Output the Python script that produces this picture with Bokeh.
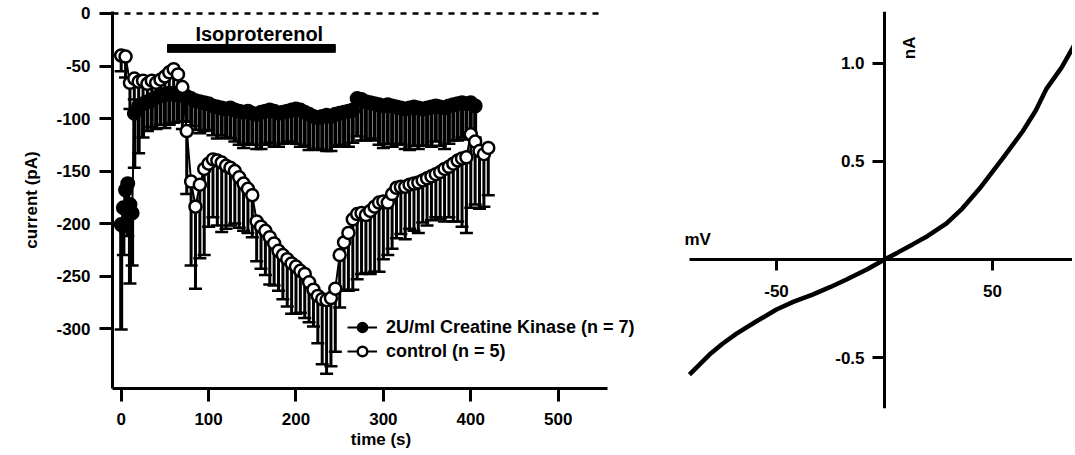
import math
from bokeh.plotting import figure
from bokeh.models import Range1d, FixedTicker, Label, Legend, LegendItem
from bokeh.layouts import row
from bokeh.embed import file_html
from bokeh.resources import INLINE

FONT = "Liberation Sans"

# ---------------- Left panel data: current (pA) vs time (s) ----------------
ctrl_time = [0, 5, 10, 15, 20, 25, 30, 35, 40, 45,
             50, 55, 60, 65, 70, 75, 80, 85, 90, 95,
             100, 105, 110, 115, 120, 125, 130, 135, 140, 145,
             150, 155, 160, 165, 170, 175, 180, 185, 190, 195,
             200, 205, 210, 215, 220, 225, 230, 235, 240, 245,
             250, 255, 260, 265, 270, 275, 280, 285, 290, 295,
             300, 305, 310, 315, 320, 325, 330, 335, 340, 345,
             350, 355, 360, 365, 370, 375, 380, 385, 390, 395,
             400, 405, 410, 415, 420]
ctrl_current = [-40, -41, -66, -62, -65, -64, -67, -64, -66, -63,
                -60, -56, -53, -58, -70, -112, -160, -184, -163, -148,
                -143, -139, -140, -142, -145, -147, -150, -156, -162, -167,
                -173, -198, -203, -207, -213, -219, -226, -230, -234, -238,
                -241, -245, -248, -256, -263, -269, -272, -273, -271, -262,
                -230, -218, -209, -196, -191, -190, -192, -188, -184, -180,
                -179, -180, -172, -166, -165, -165, -163, -162, -161, -159,
                -157, -155, -153, -151, -148, -146, -143, -140, -138, -137,
                -115, -122, -131, -134, -128]
ctrl_err = [15, 20, 25, 20, 25, 20, 22, 20, 18, 20,
            18, 20, 22, 25, 40, 60, 80, 78, 70, 82,
            60, 55, 62, 66, 60, 55, 50, 48, 45, 42,
            40, 38, 40, 42, 45, 40, 38, 42, 45, 48,
            45, 40, 42, 38, 35, 45, 62, 70, 65, 60,
            50, 45, 55, 67, 62, 58, 55, 60, 62, 66,
            55, 50, 52, 48, 45, 50, 42, 45, 48, 40,
            45, 42, 41, 45, 50, 48, 55, 58, 65, 72,
            70, 60, 55, 50, 45]

ck_time = [0, 2.5, 5, 7.5, 10, 12.5,
           15, 20, 25, 30, 35, 40, 45, 50, 55, 60,
           65, 70, 75, 80, 85, 90, 95, 100, 105, 110,
           115, 120, 125, 130, 135, 140, 145, 150, 155, 160,
           165, 170, 175, 180, 185, 190, 195, 200, 205, 210,
           215, 220, 225, 230, 235, 240, 245, 250, 255, 260,
           265, 270, 275, 280, 285, 290, 295, 300, 305, 310,
           315, 320, 325, 330, 335, 340, 345, 350, 355, 360,
           365, 370, 375, 380, 385, 390, 395, 400, 405]
ck_current = [-201, -185, -168, -162, -182, -190,
              -95, -88, -86, -84, -82, -80, -78, -77, -76, -76,
              -77, -78, -79, -81, -83, -84, -85, -86, -88, -89,
              -90, -91, -90, -92, -93, -94, -93, -95, -96, -94,
              -93, -92, -93, -95, -94, -93, -92, -91, -92, -94,
              -96, -98, -99, -98, -97, -98, -96, -95, -94, -93,
              -92, -81, -82, -84, -85, -86, -87, -88, -87, -88,
              -89, -90, -91, -90, -89, -90, -91, -90, -89, -88,
              -89, -90, -88, -87, -86, -85, -86, -85, -88]
ck_err = [100, 45, 40, 50, 75, 50,
          52, 45, 32, 28, 26, 30, 28, 32, 30, 28,
          26, 25, 24, 26, 28, 30, 27, 25, 28, 30,
          26, 27, 29, 30, 32, 34, 31, 30, 33, 35,
          32, 31, 34, 32, 30, 29, 31, 33, 35, 32,
          34, 31, 30, 32, 34, 33, 31, 30, 32, 34,
          31, 36, 39, 37, 34, 35, 38, 40, 37, 39,
          36, 34, 38, 40, 37, 39, 35, 36, 38, 34,
          37, 39, 36, 34, 35, 33, 34, 32, 30]

iso_start, iso_end = 53, 245
time_axis_start, time_axis_end = -9.95, 556.4
zero_line_end = 553
left_xticks = [0, 100, 200, 300, 400, 500]
left_yticks = [0, -50, -100, -150, -200, -250, -300]

# ---------------- Right panel data: I-V curve ----------------
iv_mv = [-90.3, -86, -81, -75, -68.5, -60, -50, -42, -33.3, -25, -17.6, -8, 0,
         6, 13, 20, 28.7, 36, 44, 54.6, 63.9, 70, 75, 82, 88]
iv_na = [-0.587, -0.54, -0.485, -0.43, -0.378, -0.32, -0.255, -0.215, -0.179,
         -0.14, -0.102, -0.05, 0.0, 0.035, 0.077, 0.12, 0.184, 0.26, 0.362,
         0.515, 0.653, 0.76, 0.872, 0.98, 1.097]
right_xticks = [-50, 50]
right_yticks = [-0.5, 0.5, 1.0]
mv_axis_start, mv_axis_end = -90.28, 87.0


def style_axis(ax, tick_out, standoff, size="17px"):
    ax.axis_line_width = 3
    ax.axis_line_color = "black"
    ax.major_tick_line_width = 3
    ax.major_tick_line_color = "black"
    ax.major_tick_out = tick_out
    ax.major_tick_in = 0
    ax.minor_tick_line_color = None
    ax.major_label_text_font = FONT
    ax.major_label_text_font_style = "bold"
    ax.major_label_text_font_size = size
    ax.major_label_text_color = "black"
    ax.major_label_standoff = standoff
    ax.axis_label_text_font = FONT
    ax.axis_label_text_font_style = "bold"
    ax.axis_label_text_font_size = size
    ax.axis_label_text_color = "black"


# ---------------- Left figure ----------------
p1 = figure(frame_width=537, frame_height=377,
            min_border_left=112, min_border_right=0,
            min_border_top=11, min_border_bottom=58,
            x_range=Range1d(time_axis_start, 604.5), y_range=Range1d(-357.1, 1.9),
            output_backend="svg", toolbar_location=None)
p1.grid.visible = False
p1.outline_line_color = None
p1.background_fill_color = "white"

p1.xaxis.ticker = FixedTicker(ticks=left_xticks)
p1.yaxis.ticker = FixedTicker(ticks=left_yticks)
p1.xaxis.bounds = (time_axis_start, time_axis_end)
p1.yaxis.major_label_overrides = {t: str(t) for t in left_yticks}
p1.xaxis.major_label_overrides = {t: str(t) for t in left_xticks}
p1.xaxis.axis_label = "time (s)"
p1.yaxis.axis_label = "current (pA)"
style_axis(p1.xaxis[0], 13, 11)
style_axis(p1.yaxis[0], 13, 9)
p1.xaxis.axis_label_standoff = 2
p1.yaxis.axis_label_standoff = 12

# dashed zero-current line
p1.line([time_axis_start, zero_line_end], [0, 0], line_color="black",
        line_width=2.5, line_dash="6 6")

# Isoproterenol bar
p1.quad(left=[iso_start], right=[iso_end], top=[-29.5], bottom=[-37],
        fill_color="black", line_color="black")
p1.add_layout(Label(x=(iso_start + iso_end) / 2 + 9, y=-20, text="Isoproterenol",
                    text_align="center", text_baseline="alphabetic",
                    text_font=FONT, text_font_style="bold", text_font_size="20px",
                    text_color="black"))

ck_low = [v - e for v, e in zip(ck_current, ck_err)]
ctrl_low = [v - e for v, e in zip(ctrl_current, ctrl_err)]

# CK: error bars, connecting line, markers
p1.segment(x0=ck_time, y0=ck_current, x1=ck_time, y1=ck_low,
           line_color="black", line_width=4)
p1.scatter(ck_time, ck_low, marker="dash", size=13, line_color="black", line_width=2.5)
l_ck = p1.line(ck_time, ck_current, line_color="black", line_width=2)
r_ck = p1.scatter(ck_time, ck_current, marker="circle", size=13,
                  fill_color="black", line_color="black", line_width=2)
# control: error bars, connecting line, markers
p1.segment(x0=ctrl_time, y0=ctrl_current, x1=ctrl_time, y1=ctrl_low,
           line_color="black", line_width=3)
p1.scatter(ctrl_time, ctrl_low, marker="dash", size=13, line_color="black", line_width=2.5)
l_ctrl = p1.line(ctrl_time, ctrl_current, line_color="black", line_width=2)
r_ctrl = p1.scatter(ctrl_time, ctrl_current, marker="circle", size=12,
                    fill_color="white", line_color="black", line_width=2.5)

legend = Legend(items=[
    LegendItem(label="2U/ml Creatine Kinase (n = 7)", renderers=[l_ck, r_ck]),
    LegendItem(label="control (n = 5)", renderers=[l_ctrl, r_ctrl]),
], location=(235, 25))
legend.glyph_width = 30
legend.glyph_height = 24
legend.label_height = 24
legend.spacing = 0
legend.padding = 0
legend.margin = 0
legend.label_standoff = 9
legend.border_line_color = None
legend.background_fill_alpha = 0
legend.label_text_font = FONT
legend.label_text_font_style = "bold"
legend.label_text_font_size = "18px"
legend.label_text_color = "black"
p1.add_layout(legend)

# ---------------- Right figure ----------------
p2 = figure(frame_width=393, frame_height=397,
            min_border_left=30, min_border_right=0,
            min_border_top=9, min_border_bottom=40,
            x_range=Range1d(-94.9, mv_axis_end), y_range=Range1d(-0.7602, 1.2653),
            output_backend="svg", toolbar_location=None)
p2.grid.visible = False
p2.outline_line_color = None
p2.xaxis.fixed_location = 0
p2.yaxis.fixed_location = 0
p2.xaxis.bounds = (mv_axis_start, mv_axis_end)
p2.xaxis.ticker = FixedTicker(ticks=right_xticks)
p2.yaxis.ticker = FixedTicker(ticks=right_yticks)
p2.xaxis.major_label_overrides = {t: str(t) for t in right_xticks}
p2.yaxis.major_label_overrides = {t: str(t) for t in right_yticks}
style_axis(p2.xaxis[0], 11, 14)
style_axis(p2.yaxis[0], 12, 8)

p2.line(iv_mv, iv_na, line_color="black", line_width=4.5)
p2.add_layout(Label(x=-92.6, y=0.10, text="mV", text_align="left",
                    text_baseline="middle", text_font=FONT,
                    text_font_style="bold", text_font_size="17px", text_color="black"))
p2.add_layout(Label(x=11.6, y=1.08, text="nA", angle=math.pi / 2,
                    text_align="center", text_baseline="middle", text_font=FONT,
                    text_font_style="bold", text_font_size="17px", text_color="black"))

layout = row(p1, p2)
open("out.html", "w").write(file_html(layout, INLINE))
